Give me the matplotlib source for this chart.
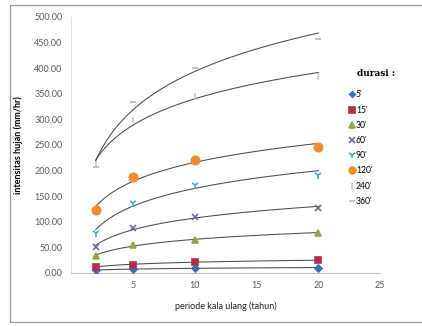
import matplotlib.pyplot as plt
import numpy as np
from matplotlib.patches import Rectangle

plt.rcParams['font.family'] = ['Lato', 'DejaVu Sans']

# return period (years) and rainfall intensity (mm/hr) per duration
periode = [2, 5, 10, 20]
durasi = ["5'", "15'", "30'", "60'", "90'", "120'", "240'", "360'"]
i5 = [5, 8, 9, 10]
i15 = [12, 16, 21, 25]
i30 = [33, 55, 65, 78]
i60 = [51, 88, 109, 127]
i90 = [78, 137, 172, 192]
i120 = [123, 187, 221, 246]
i240 = [212, 299, 346, 383]
i360 = [207, 334, 401, 457]

series = [i5, i15, i30, i60, i90, i120, i240, i360]
markers = ['D', 's', '^', 'x', '1', 'o', '|', '_']
colors = ['#3a6fb5', '#b0304a', '#8aa84a', '#7a6494', '#4aa8c4', '#f28a2e', '#c8c8c8', '#b8b8b8']
sizes = [3.5, 5, 5, 5, 6, 6, 5, 5]

fig = plt.figure(figsize=(4.22, 3.26), dpi=100)
ax = fig.add_axes([0.168, 0.163, 0.733, 0.785])

x = np.array(periode, dtype=float)
xs = np.linspace(2, 20, 100)
for vals, m, c, s, lab in zip(series, markers, colors, sizes, durasi):
    y = np.array(vals, dtype=float)
    # logarithmic trendline y = a*ln(x) + b
    a, b = np.polyfit(np.log(x), y, 1)
    ax.plot(xs, a * np.log(xs) + b, color='#4a4a4a', lw=0.75, zorder=2)
    ax.plot(x, y, linestyle='none', marker=m, color=c, markersize=s,
            markeredgewidth=1.2, label=lab, zorder=3)

ax.set_xlim(0, 25)
ax.set_ylim(0, 500)
ax.set_xticks([5, 10, 15, 20, 25])
ax.set_yticks(np.arange(0, 501, 50))
ax.set_yticklabels(['%.2f' % v for v in np.arange(0, 501, 50)])
ax.tick_params(labelsize=6.5, colors='#595959', length=0, pad=6)
for side in ['top', 'right']:
    ax.spines[side].set_visible(False)
ax.spines['left'].set_color('#e0e0e0')
ax.spines['bottom'].set_color('#bfbfbf')
ax.set_ylabel('intensitas hujan (mm/hr)', fontsize=6.5, fontweight='bold', labelpad=8)
ax.set_xlabel('periode kala ulang (tahun)', fontsize=6.5, labelpad=8, color='#222222')

leg = fig.legend(loc='upper left', bbox_to_anchor=(0.823, 0.733), frameon=False,
                 fontsize=6.2, handlelength=0.4, handletextpad=0.2,
                 labelspacing=0.72, borderaxespad=0, markerscale=0.8)
fig.text(0.846, 0.766, 'durasi :', fontsize=6.5, fontweight='bold', fontfamily='DejaVu Serif')

# outer frame
fig.patches.append(Rectangle((10 / 422, 4 / 326), 420 / 422, 317 / 326, fill=False,
                             edgecolor='#9a9a9a', lw=0.9, transform=fig.transFigure))

fig.savefig('out.png', dpi=100)
